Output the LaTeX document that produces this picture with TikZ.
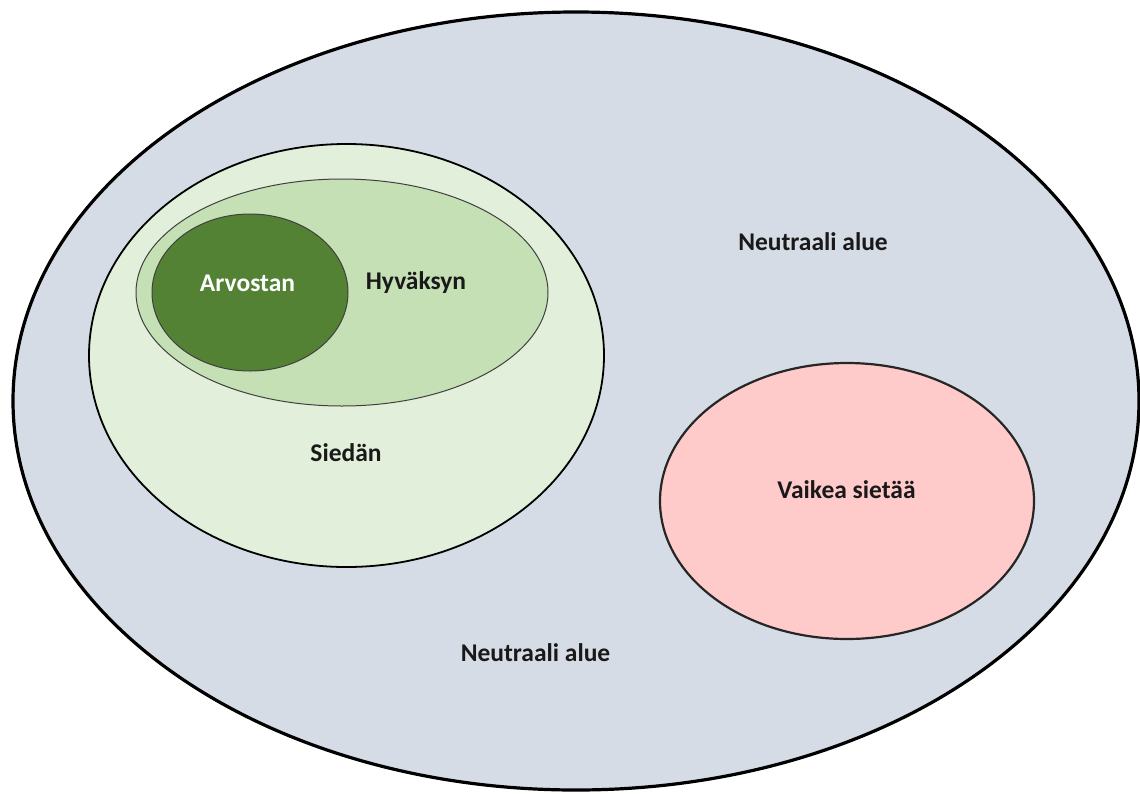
\documentclass[tikz,border=0pt]{standalone}
\usepackage{fontspec}
\setmainfont{Carlito}
\usetikzlibrary{shapes.geometric}

\definecolor{neutral}{HTML}{D6DCE5}
\definecolor{siedan}{HTML}{E2EFDA}
\definecolor{hyvaksyn}{HTML}{C5E0B4}
\definecolor{arvostan}{HTML}{548235}
\definecolor{vaikea}{HTML}{FFCACA}

\begin{document}
\begin{tikzpicture}[x=1pt,y=-1pt]
\tikzstyle{every node}=[font=\fontsize{25.5}{30}\selectfont\bfseries]
\tikzstyle{zone}=[ellipse, draw=black!85, line width=1.3pt, inner sep=0pt]
\tikzstyle{tag}=[text=black!90, inner sep=0pt]

\useasboundingbox (0,0) rectangle (1140,793);

% areas
\node[zone, draw=black, line width=3.2pt, fill=neutral, minimum width=1126pt, minimum height=778pt] (N) at (576,401) {};
\node[zone, draw=black, line width=1.8pt, fill=siedan, minimum width=515pt, minimum height=423pt] (S) at (346.5,355.5) {};
\node[zone, draw=black!75, line width=1pt, fill=hyvaksyn, minimum width=412pt, minimum height=227pt] (H) at (342,292.5) {};
\node[zone, draw=black!75, line width=1pt, fill=arvostan, minimum width=196pt, minimum height=157pt] (A) at (250,292.5) {};
\node[zone, draw=black!85, line width=2.2pt, fill=vaikea, minimum width=374pt, minimum height=276pt] (V) at (847,501) {};

% labels
\node[tag, text=white] (At) at (247.5,283) {Arvostan};
\node[tag] (Ht) at (416,283) {Hyväksyn};
\node[tag] (St) at (346,453) {Siedän};
\node[tag] (Vt) at (846.5,490) {Vaikea sietää};
\node[tag] (N1) at (813,242) {Neutraali alue};
\node[tag] (N2) at (535.5,653) {Neutraali alue};
\end{tikzpicture}
\end{document}
